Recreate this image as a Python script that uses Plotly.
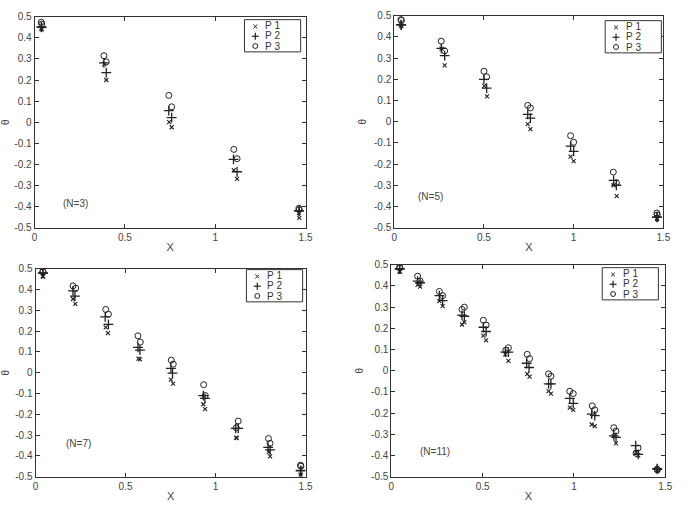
import plotly.graph_objects as go

W, H = 693, 508

# ---------------- data ----------------
# Panel N=3
n3_p1_x = [0.037, 0.040, 0.386, 0.397, 0.745, 0.759, 1.103, 1.121, 1.463, 1.465]
n3_p1_y = [0.445, 0.440, 0.275, 0.200, 0.000, -0.024, -0.227, -0.269, -0.430, -0.454]
n3_p2_x = [0.037, 0.040, 0.384, 0.397, 0.743, 0.759, 1.101, 1.121, 1.463, 1.465]
n3_p2_y = [0.452, 0.450, 0.281, 0.235, 0.055, 0.022, -0.176, -0.235, -0.420, -0.420]
n3_p3_x = [0.037, 0.040, 0.384, 0.397, 0.743, 0.759, 1.103, 1.121, 1.463, 1.465]
n3_p3_y = [0.474, 0.465, 0.315, 0.286, 0.127, 0.073, -0.129, -0.173, -0.408, -0.415]

# Panel N=5
n5_p1_x = [0.037, 0.040, 0.264, 0.281, 0.502, 0.517, 0.744, 0.759, 0.983, 1.000, 1.223, 1.240, 1.464, 1.466]
n5_p1_y = [0.455, 0.452, 0.345, 0.266, 0.169, 0.120, -0.011, -0.035, -0.165, -0.186, -0.300, -0.351, -0.455, -0.460]
n5_p2_x = [0.037, 0.040, 0.262, 0.281, 0.500, 0.515, 0.744, 0.759, 0.983, 1.000, 1.223, 1.238, 1.464, 1.466]
n5_p2_y = [0.458, 0.456, 0.346, 0.312, 0.200, 0.158, 0.035, 0.017, -0.115, -0.140, -0.277, -0.300, -0.451, -0.450]
n5_p3_x = [0.037, 0.040, 0.262, 0.281, 0.500, 0.515, 0.744, 0.759, 0.983, 1.000, 1.221, 1.238, 1.464, 1.466]
n5_p3_y = [0.482, 0.478, 0.380, 0.334, 0.238, 0.212, 0.077, 0.065, -0.066, -0.097, -0.238, -0.288, -0.431, -0.440]

# Panel N=7
n7_p1_x = [0.040, 0.042, 0.208, 0.221, 0.390, 0.402, 0.572, 0.580, 0.752, 0.764, 0.932, 0.942, 1.114, 1.118, 1.296, 1.303, 1.472, 1.474]
n7_p1_y = [0.464, 0.462, 0.354, 0.331, 0.218, 0.190, 0.067, 0.064, -0.034, -0.053, -0.152, -0.176, -0.312, -0.315, -0.382, -0.403, -0.490, -0.495]
n7_p2_x = [0.040, 0.042, 0.208, 0.219, 0.387, 0.405, 0.569, 0.580, 0.752, 0.761, 0.932, 0.941, 1.112, 1.126, 1.292, 1.303, 1.472, 1.474]
n7_p2_y = [0.480, 0.478, 0.393, 0.368, 0.268, 0.232, 0.121, 0.108, 0.020, -0.002, -0.111, -0.124, -0.268, -0.268, -0.359, -0.371, -0.472, -0.470]
n7_p3_x = [0.040, 0.042, 0.208, 0.223, 0.390, 0.405, 0.569, 0.582, 0.754, 0.765, 0.934, 0.943, 1.115, 1.126, 1.294, 1.303, 1.472, 1.474]
n7_p3_y = [0.487, 0.484, 0.417, 0.406, 0.304, 0.281, 0.177, 0.147, 0.060, 0.041, -0.058, -0.110, -0.265, -0.233, -0.317, -0.340, -0.445, -0.450]

# Panel N=11
n11_p1_x = [0.045, 0.047, 0.144, 0.158, 0.263, 0.281, 0.387, 0.400, 0.504, 0.519, 0.624, 0.641, 0.744, 0.757, 0.861, 0.874, 0.977, 0.996, 1.097, 1.114, 1.218, 1.230, 1.340, 1.352, 1.455, 1.457]
n11_p1_y = [0.469, 0.466, 0.405, 0.397, 0.328, 0.305, 0.218, 0.228, 0.165, 0.143, 0.077, 0.046, -0.015, -0.028, -0.097, -0.108, -0.174, -0.185, -0.254, -0.262, -0.308, -0.343, -0.385, -0.400, -0.468, -0.470]
n11_p2_x = [0.045, 0.047, 0.144, 0.158, 0.263, 0.281, 0.387, 0.400, 0.504, 0.519, 0.624, 0.641, 0.741, 0.754, 0.861, 0.874, 0.977, 0.996, 1.097, 1.114, 1.218, 1.230, 1.338, 1.352, 1.455, 1.457]
n11_p2_y = [0.482, 0.480, 0.423, 0.415, 0.354, 0.331, 0.262, 0.257, 0.205, 0.185, 0.088, 0.088, 0.035, 0.015, -0.062, -0.062, -0.131, -0.154, -0.205, -0.212, -0.308, -0.315, -0.354, -0.395, -0.462, -0.466]
n11_p3_x = [0.045, 0.047, 0.144, 0.158, 0.263, 0.281, 0.387, 0.400, 0.504, 0.519, 0.627, 0.641, 0.744, 0.757, 0.861, 0.874, 0.977, 0.996, 1.100, 1.114, 1.218, 1.230, 1.340, 1.351, 1.455, 1.457]
n11_p3_y = [0.488, 0.485, 0.446, 0.423, 0.374, 0.354, 0.289, 0.300, 0.238, 0.215, 0.097, 0.108, 0.077, 0.057, -0.015, -0.026, -0.097, -0.108, -0.166, -0.185, -0.269, -0.285, -0.390, -0.365, -0.465, -0.468]

series_names = ["P 1", "P 2", "P 3"]
panel_labels = ["(N=3)", "(N=5)", "(N=7)", "(N=11)"]
label_pos_x = [0.229, 0.204, 0.237, 0.240]
label_pos_y = [-0.386, -0.351, -0.340, -0.381]

x_tick_vals = [0, 0.5, 1, 1.5]
x_tick_text = ["0", "0.5", "1", "1.5"]
y_tick_vals = [0.5, 0.4, 0.3, 0.2, 0.1, 0, -0.1, -0.2, -0.3, -0.4, -0.5]
y_tick_text = ["0.5", "0.4", "0.3", "0.2", "0.1", "0", "-0.1", "-0.2", "-0.3", "-0.4", "-0.5"]

panels = [
    [(n3_p1_x, n3_p1_y), (n3_p2_x, n3_p2_y), (n3_p3_x, n3_p3_y)],
    [(n5_p1_x, n5_p1_y), (n5_p2_x, n5_p2_y), (n5_p3_x, n5_p3_y)],
    [(n7_p1_x, n7_p1_y), (n7_p2_x, n7_p2_y), (n7_p3_x, n7_p3_y)],
    [(n11_p1_x, n11_p1_y), (n11_p2_x, n11_p2_y), (n11_p3_x, n11_p3_y)],
]

# ---------------- layout geometry (pixels) ----------------
# (left, right, top, bottom) of each plot area
boxes = [(32, 307, 11, 227), (397, 670, 10, 227), (33, 307, 269, 482), (394, 672, 265, 482)]
# legend box: (left edge, top edge)
legend_boxes = [(245, 14), (611, 15), (247, 270), (608, 268)]
LEG_W, LEG_H = 57, 33

FONT = "Arial, Liberation Sans, sans-serif"
INK = "#222222"

symbols = ["x-thin", "cross-thin", "circle-open"]
sizes = [4, 7, 6]
lwidths = [1.1, 1.3, 1.0]

fig = go.Figure()
layout = dict(
    width=W, height=H, margin=dict(l=0, r=0, t=0, b=0),
    paper_bgcolor="white", plot_bgcolor="white", showlegend=False,
    font=dict(family=FONT, color="#333333", size=10),
)


def px(xp):
    return xp / W


def py(yp):
    return 1 - yp / H


NB = "\u00a0"
shapes = []
for i, panel in enumerate(panels):
    k = "" if i == 0 else str(i + 1)
    xa, ya = "x" + k, "y" + k
    for j, (xs, ys) in enumerate(panel):
        fig.add_trace(go.Scatter(
            x=xs, y=ys, mode="markers", name=series_names[j],
            xaxis=xa, yaxis=ya,
            marker=dict(symbol=symbols[j], size=sizes[j], color=INK,
                        line=dict(color=INK, width=lwidths[j])),
        ))
    l, r, t, b = boxes[i]
    axis_common = dict(showline=True, mirror="ticks", linecolor="#333333", linewidth=1,
                       ticks="inside", ticklen=4, tickcolor="#333333",
                       showgrid=False, zeroline=False,
                       tickfont=dict(family=FONT, size=10, color="#444444"))
    layout["xaxis" + k] = dict(
        axis_common, domain=[l / W, r / W], anchor=ya, range=[0, 1.5],
        tickvals=x_tick_vals, ticktext=x_tick_text,
        title=dict(text="X", font=dict(family=FONT, size=11, color="#444444"), standoff=1),
    )
    layout["yaxis" + k] = dict(
        axis_common, domain=[1 - b / H, 1 - t / H], anchor=xa, range=[-0.5, 0.5],
        tickvals=y_tick_vals, ticktext=y_tick_text,
        title=dict(text="θ", font=dict(family=FONT, size=10, color="#444444"), standoff=5),
    )
    # legend box (drawn manually to keep the compact MATLAB look)
    lx, ly = legend_boxes[i]
    shapes.append(dict(type="rect", xref="paper", yref="paper",
                       x0=px(lx), x1=px(lx + LEG_W), y0=py(ly + LEG_H), y1=py(ly),
                       line=dict(color="#333333", width=1), fillcolor="white", layer="above"))
    gx = lx + 11
    rows = [ly + 7, ly + 17, ly + 27]
    # x glyph
    cy = rows[0]
    for dy in (-2, 2):
        shapes.append(dict(type="line", xref="paper", yref="paper", layer="above",
                           x0=px(gx - 2), x1=px(gx + 2), y0=py(cy - dy), y1=py(cy + dy),
                           line=dict(color=INK, width=1)))
    # + glyph
    cy = rows[1]
    shapes.append(dict(type="line", xref="paper", yref="paper", layer="above",
                       x0=px(gx - 3.5), x1=px(gx + 3.5), y0=py(cy), y1=py(cy),
                       line=dict(color=INK, width=1.2)))
    shapes.append(dict(type="line", xref="paper", yref="paper", layer="above",
                       x0=px(gx), x1=px(gx), y0=py(cy - 3.5), y1=py(cy + 3.5),
                       line=dict(color=INK, width=1.2)))
    # o glyph
    cy = rows[2]
    shapes.append(dict(type="circle", xref="paper", yref="paper", layer="above",
                       x0=px(gx - 2.5), x1=px(gx + 2.5), y0=py(cy + 2.5), y1=py(cy - 2.5),
                       line=dict(color=INK, width=1)))
    name_text = "<br>".join(
        f"<span style='font-size:10px'>{series_names[j].replace(' ', NB)}</span>" for j in range(3))
    fig.add_annotation(x=px(lx + 20), y=py(ly + LEG_H / 2 + 0.5), xref="paper", yref="paper",
                       xanchor="left", yanchor="middle", showarrow=False, align="left",
                       text=name_text, borderpad=0,
                       font=dict(family=FONT, size=8, color="#333333"))
    fig.add_annotation(x=label_pos_x[i], y=label_pos_y[i], xref=xa, yref=ya,
                       text=panel_labels[i], showarrow=False,
                       font=dict(family=FONT, size=10, color="#444444"))

layout["shapes"] = shapes
fig.update_layout(**layout)
fig.write_html("out.html")
